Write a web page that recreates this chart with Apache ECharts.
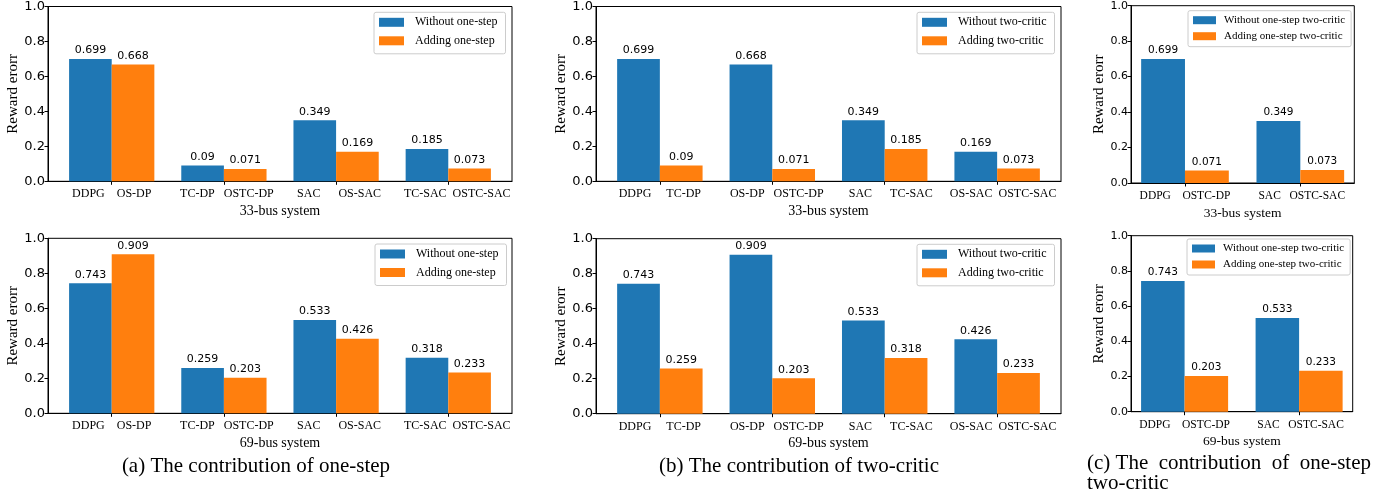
<!DOCTYPE html>
<html>
<head>
<meta charset="utf-8">
<script src="https://cdn.jsdelivr.net/npm/echarts@6/dist/echarts.min.js"></script>
<style>
html,body{margin:0;padding:0;background:#fff;}
#chart{width:1398px;height:497px;}
</style>
</head>
<body>
<div id="chart"></div>
<script>
// ---------- data ----------
const yTicks = [0.0, 0.2, 0.4, 0.6, 0.8, 1.0];

// (a) contribution of one-step
const tickLabelsA = ['DDPG    OS-DP', '  TC-DP   OSTC-DP', '  SAC      OS-SAC', '      TC-SAC  OSTC-SAC'];
const a33Without = [0.699, 0.09, 0.349, 0.185];
const a33Adding  = [0.668, 0.071, 0.169, 0.073];
const a69Without = [0.743, 0.259, 0.533, 0.318];
const a69Adding  = [0.909, 0.203, 0.426, 0.233];

// (b) contribution of two-critic
const tickLabelsB = ['DDPG     TC-DP', '   OS-DP   OSTC-DP', '    SAC      TC-SAC', '    OS-SAC  OSTC-SAC'];
const b33Without = [0.699, 0.668, 0.349, 0.169];
const b33Adding  = [0.09, 0.071, 0.185, 0.073];
const b69Without = [0.743, 0.909, 0.533, 0.426];
const b69Adding  = [0.259, 0.203, 0.318, 0.233];

// (c) contribution of one-step two-critic
const tickLabelsC = ['DDPG    OSTC-DP', ' SAC   OSTC-SAC'];
const c33Without = [0.699, 0.349];
const c33Adding  = [0.071, 0.073];
const c69Without = [0.743, 0.533];
const c69Adding  = [0.203, 0.233];

const legendA = ['Without one-step', 'Adding one-step'];
const legendB = ['Without two-critic', 'Adding two-critic'];
const legendC = ['Without one-step two-critic', 'Adding one-step two-critic'];
const xNames = ['33-bus system', '69-bus system'];
const yName = 'Reward erorr';
const captions = ['(a) The contribution of one-step', '(b) The contribution of two-critic', '(c) The  contribution  of  one-step', 'two-critic'];

// ---------- style ----------
const BLUE = '#1f77b4', ORANGE = '#ff7f0e';
const SERIF = 'Liberation Serif';
const SANS = 'DejaVu Sans';
const BAR_FRAC = 0.38;

const panels = [
  {grid:{left:48, top:6, width:464, height:175.3}, ticks:tickLabelsA, w:a33Without, a:a33Adding, names:legendA, xname:xNames[0], lg:{left:374, top:12.3}, small:false, nameGap:27},
  {grid:{left:48, top:238.3, width:464, height:175}, ticks:tickLabelsA, w:a69Without, a:a69Adding, names:legendA, xname:xNames[1], lg:{left:375, top:244}, small:false, nameGap:27},
  {grid:{left:596, top:6, width:465, height:175.3}, ticks:tickLabelsB, w:b33Without, a:b33Adding, names:legendB, xname:xNames[0], lg:{left:917, top:12.3}, small:false, nameGap:27},
  {grid:{left:596, top:238.7, width:465, height:175}, ticks:tickLabelsB, w:b69Without, a:b69Adding, names:legendB, xname:xNames[1], lg:{left:917, top:244.3}, small:false, nameGap:27},
  {grid:{left:1131, top:5.7, width:223.3, height:177.3}, ticks:tickLabelsC, w:c33Without, a:c33Adding, names:legendC, xname:xNames[0], lg:{left:1188, top:10.7}, small:true, nameGap:21},
  {grid:{left:1131, top:235.7, width:221.7, height:176}, ticks:tickLabelsC, w:c69Without, a:c69Adding, names:legendC, xname:xNames[1], lg:{left:1187, top:239}, small:true, nameGap:21}
];

const grids = [], xAxes = [], yAxes = [], series = [], legends = [];
panels.forEach((p, i) => {
  const n = p.w.length;
  const dMin = -BAR_FRAC, dMax = n - 1 + BAR_FRAC;
  const pad = 0.05 * (dMax - dMin);
  const idx = p.w.map((_, k) => k);
  const catFont = p.small ? 11.5 : 12;
  grids.push(Object.assign({show:true, borderColor:'#000', borderWidth:1, backgroundColor:'transparent'}, p.grid));
  xAxes.push({
    type:'value', gridIndex:i, min:dMin - pad, max:dMax + pad,
    name:p.xname, nameLocation:'middle', nameGap:23,
    nameTextStyle:{fontFamily:SERIF, fontSize: p.small ? 13.5 : 14, color:'#000'},
    splitLine:{show:false},
    axisLine:{show:true, onZero:false, lineStyle:{color:'#000', width:1}},
    axisTick:{show:true, length:3.5, customValues:idx, lineStyle:{color:'#000'}},
    axisLabel:{customValues:idx, margin:7, fontFamily:SERIF, fontSize:catFont, color:'#000',
      formatter:(v) => p.ticks[Math.round(v)]}
  });
  yAxes.push({
    type:'value', gridIndex:i, min:0, max:1, interval:0.2,
    name:yName, nameLocation:'middle', nameGap:p.nameGap,
    nameTextStyle:{fontFamily:SERIF, fontSize:15, color:'#000'},
    splitLine:{show:false},
    axisLine:{show:true, onZero:false, lineStyle:{color:'#000', width:1}},
    axisTick:{show:true, length:3.5, lineStyle:{color:'#000'}},
    axisLabel:{margin:3, fontFamily:SANS, fontSize: p.small ? 11 : 13, color:'#000',
      formatter:(v) => v.toFixed(1)}
  });
  const lbl = {show:true, position:'top', distance:3, fontFamily:SANS, fontSize: p.small ? 10.5 : 11, color:'#000',
    formatter:(q) => String(q.value[1])};
  series.push({
    type:'bar', name:p.names[0], xAxisIndex:i, yAxisIndex:i,
    data:p.w.map((v, k) => [k, v]), barWidth:(BAR_FRAC*100)+'%', barGap:'0%',
    itemStyle:{color:BLUE}, label:lbl, animation:false
  });
  series.push({
    type:'bar', name:p.names[1], xAxisIndex:i, yAxisIndex:i,
    data:p.a.map((v, k) => [k, v]), barWidth:(BAR_FRAC*100)+'%', barGap:'0%',
    itemStyle:{color:ORANGE}, label:lbl, animation:false
  });
  legends.push({
    data:p.names, orient:'vertical', left:p.lg.left, top:p.lg.top,
    icon:'rect', itemWidth: p.small ? 23 : 25, itemHeight: p.small ? 8 : 9,
    itemGap: p.small ? 3 : 4.5,
    padding: p.small ? [3, 6, 4, 5] : [3, 8, 6, 5],
    backgroundColor:'rgba(255,255,255,0.8)', borderColor:'#cccccc', borderWidth:1, borderRadius:2,
    textStyle:{fontFamily:SERIF, fontSize: p.small ? 11 : 12, color:'#000', lineHeight: p.small ? 13 : 14, padding:[0,0,0, p.small ? 3 : 6]},
    selectedMode:false
  });
});

const capStyle = (text, align) => ({text:text, fontFamily:SERIF, fontSize:21, fill:'#000', textAlign:align, textVerticalAlign:'middle'});
const graphics = [
  {type:'text', x:256, y:466.5, style:capStyle(captions[0], 'center')},
  {type:'text', x:799, y:466, style:capStyle(captions[1], 'center')},
  {type:'text', x:1087, y:463.3, style:capStyle(captions[2], 'left')},
  {type:'text', x:1087, y:483.3, style:capStyle(captions[3], 'left')}
];

const chart = echarts.init(document.getElementById('chart'), null, {renderer:'canvas'});
chart.setOption({
  animation:false,
  grid:grids, xAxis:xAxes, yAxis:yAxes, series:series, legend:legends,
  graphic:graphics
});
</script>
</body>
</html>
